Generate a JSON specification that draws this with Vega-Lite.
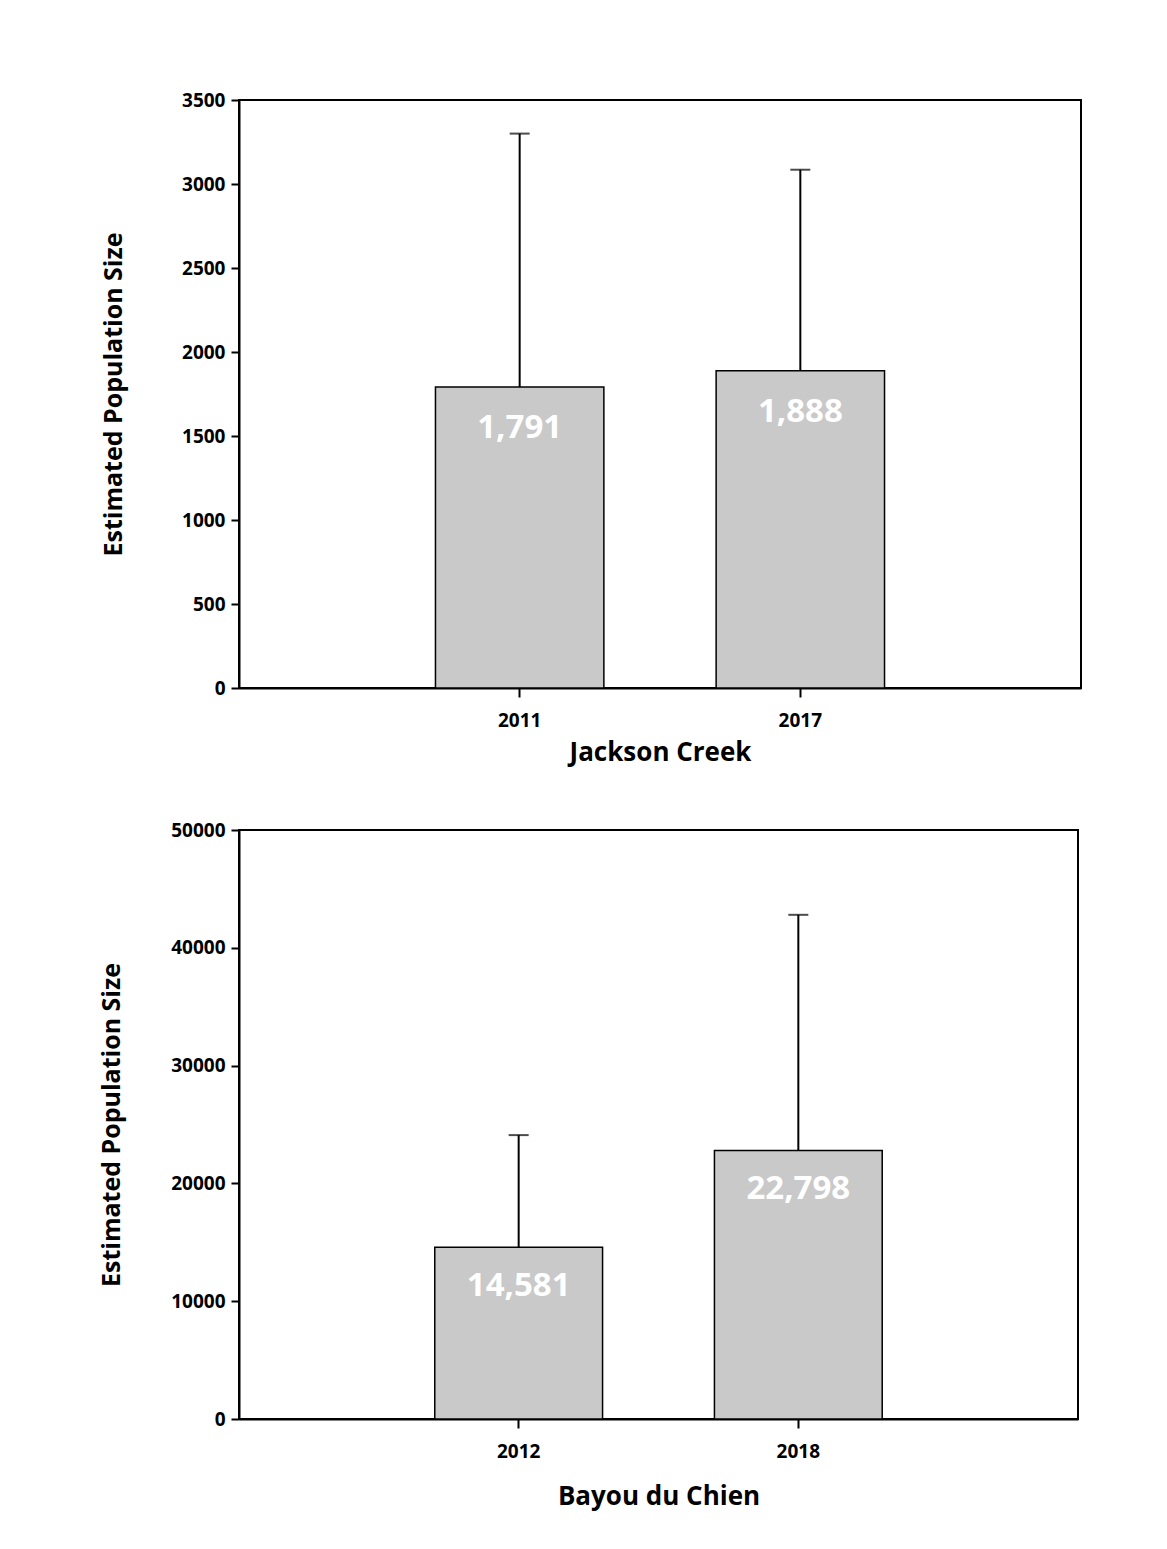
{
  "$schema": "https://vega.github.io/schema/vega-lite/v6.json",
  "padding": {"left": 98, "top": 90, "right": 10, "bottom": 10},
  "background": "white",
  "bounds": "flush",
  "spacing": 142,
  "data": {
    "values": [
      {"site": "Jackson Creek", "year": "2011", "value": 1791, "upper": 3300},
      {"site": "Jackson Creek", "year": "2017", "value": 1888, "upper": 3085},
      {"site": "Bayou du Chien", "year": "2012", "value": 14581, "upper": 24100},
      {"site": "Bayou du Chien", "year": "2018", "value": 22798, "upper": 42800}
    ]
  },
  "config": {
    "font": "Open Sans",
    "view": {"stroke": "black", "strokeWidth": 2},
    "axis": {
      "grid": false,
      "domainColor": "black",
      "domainWidth": 2,
      "tickColor": "black",
      "tickWidth": 2,
      "labelColor": "black",
      "labelFont": "Open Sans",
      "labelFontWeight": "bold",
      "labelFontSize": 19,
      "titleColor": "black",
      "titleFont": "Open Sans",
      "titleFontWeight": "bold"
    }
  },
  "vconcat": [
    {
      "width": 842,
      "height": 588,
      "transform": [{"filter": "datum.site === 'Jackson Creek'"}],
      "encoding": {
        "x": {
          "field": "year",
          "type": "ordinal",
          "scale": {"type": "band", "paddingInner": 0.4, "paddingOuter": 0.7},
          "axis": {"labelAngle": 0, "tickSize": 9, "labelPadding": 14, "title": "Jackson Creek", "titleFontSize": 26, "titleBaseline": "middle", "titleY": 64}
        },
        "y": {
          "type": "quantitative",
          "scale": {"domain": [0, 3500], "nice": false},
          "axis": {"values": [0, 500, 1000, 1500, 2000, 2500, 3000, 3500], "format": "d", "tickSize": 8, "labelPadding": 6, "title": "Estimated Population Size", "titleFontSize": 25, "titleBaseline": "middle", "titleX": -126}
        }
      },
      "layer": [
        {"mark": {"type": "rule", "color": "black", "strokeWidth": 2}, "encoding": {"y": {"field": "value", "type": "quantitative"}, "y2": {"field": "upper"}}},
        {"mark": {"type": "tick", "color": "black", "size": 20, "thickness": 2}, "encoding": {"y": {"field": "upper", "type": "quantitative"}}},
        {"mark": {"type": "bar", "fill": "#c9c9c9", "stroke": "black", "strokeWidth": 1.5}, "encoding": {"y": {"field": "value", "type": "quantitative"}}},
        {"mark": {"type": "text", "color": "white", "fontSize": 33, "fontWeight": "bold", "baseline": "middle", "dy": 41}, "encoding": {"y": {"field": "value", "type": "quantitative"}, "text": {"field": "value", "type": "quantitative", "format": ",d"}}}
      ]
    },
    {
      "width": 839,
      "height": 589,
      "transform": [{"filter": "datum.site === 'Bayou du Chien'"}],
      "encoding": {
        "x": {
          "field": "year",
          "type": "ordinal",
          "scale": {"type": "band", "paddingInner": 0.4, "paddingOuter": 0.7},
          "axis": {"labelAngle": 0, "tickSize": 9, "labelPadding": 14, "title": "Bayou du Chien", "titleFontSize": 26, "titleBaseline": "middle", "titleY": 77}
        },
        "y": {
          "type": "quantitative",
          "scale": {"domain": [0, 50000], "nice": false},
          "axis": {"values": [0, 10000, 20000, 30000, 40000, 50000], "format": "d", "tickSize": 8, "labelPadding": 6, "title": "Estimated Population Size", "titleFontSize": 25, "titleBaseline": "middle", "titleX": -128}
        }
      },
      "layer": [
        {"mark": {"type": "rule", "color": "black", "strokeWidth": 2}, "encoding": {"y": {"field": "value", "type": "quantitative"}, "y2": {"field": "upper"}}},
        {"mark": {"type": "tick", "color": "black", "size": 20, "thickness": 2}, "encoding": {"y": {"field": "upper", "type": "quantitative"}}},
        {"mark": {"type": "bar", "fill": "#c9c9c9", "stroke": "black", "strokeWidth": 1.5}, "encoding": {"y": {"field": "value", "type": "quantitative"}}},
        {"mark": {"type": "text", "color": "white", "fontSize": 33, "fontWeight": "bold", "baseline": "middle", "dy": 39}, "encoding": {"y": {"field": "value", "type": "quantitative"}, "text": {"field": "value", "type": "quantitative", "format": ",d"}}}
      ]
    }
  ]
}
